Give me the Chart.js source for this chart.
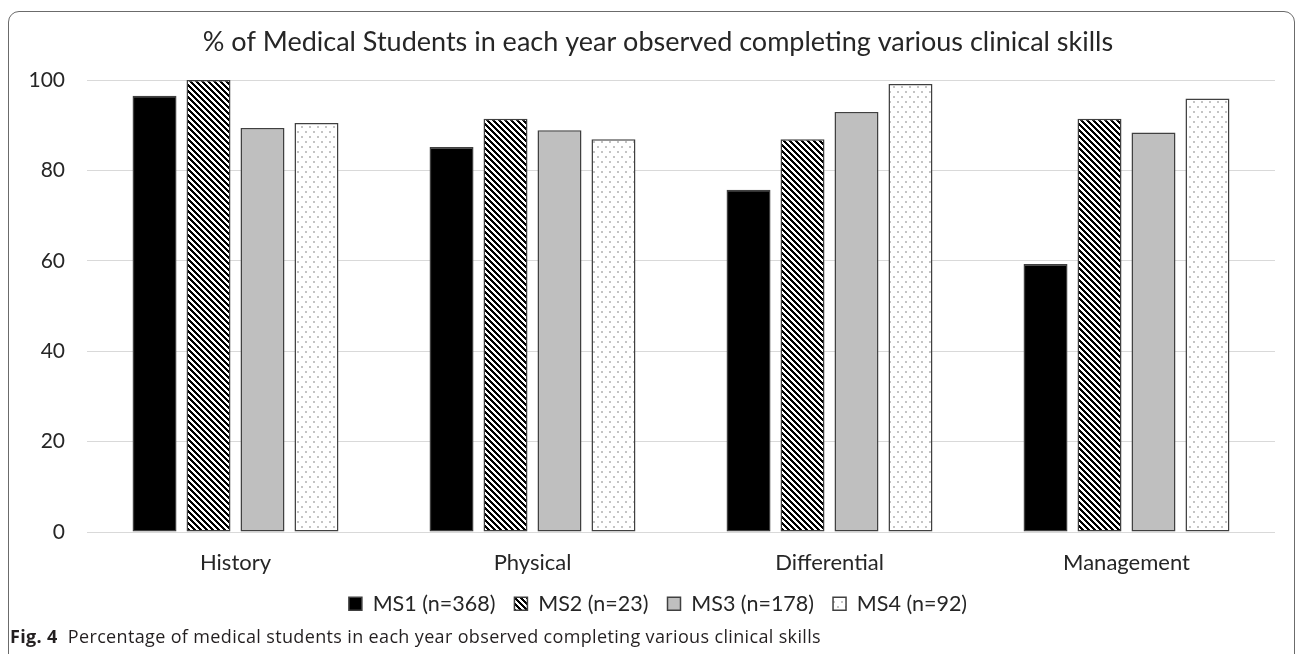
<!DOCTYPE html>
<html>
<head>
<meta charset="utf-8">
<script src="https://cdn.jsdelivr.net/npm/chart.js@4.4.1/dist/chart.umd.min.js"></script>
<style>
  html, body { margin: 0; padding: 0; background: #fff; }
  #wrap { position: relative; width: 1295px; height: 654px; overflow: hidden; }
  #frame {
    position: absolute; left: 8px; top: 11px; width: 1287px; height: 700px;
    border: 1.5px solid #6b6b6b; border-radius: 11px; box-sizing: border-box;
  }
  #c { position: absolute; left: 0; top: 0; }
  #caption {
    position: absolute; left: 10px; top: 624px;
    font-family: "Open Sans", sans-serif; font-size: 18px; letter-spacing: 0.35px;
    color: #231f20; white-space: nowrap;
  }
  #caption b { font-weight: 700; }
</style>
</head>
<body>
<div id="wrap">
  <div id="frame"></div>
  <canvas id="c" width="1316" height="654"></canvas>
  <div id="caption"><b>Fig. 4</b>&nbsp; Percentage of medical students in each year observed completing various clinical skills</div>
</div>
<script>
// Skill categories and the share (%) of each student year observed doing them
const categories = ['History', 'Physical', 'Differential', 'Management'];
const seriesNames = ['MS1 (n=368)', 'MS2 (n=23)', 'MS3 (n=178)', 'MS4 (n=92)'];
const ms1 = [96.5, 85.2, 75.7, 59.3];
const ms2 = [100, 91.4, 86.9, 91.4];
const ms3 = [89.4, 88.9, 92.9, 88.4];
const ms4 = [90.5, 86.9, 99.1, 95.9];
const yTicks = [0, 20, 40, 60, 80, 100];
const chartTitle = '% of Medical Students in each year observed completing various clinical skills';

// Fill patterns: diagonal hatching and a sparse dot screen
function makeHatch() {
  const n = 6;
  const t = document.createElement('canvas');
  t.width = n; t.height = n;
  const g = t.getContext('2d');
  g.fillStyle = '#ffffff';
  g.fillRect(0, 0, n, n);
  g.fillStyle = '#000000';
  for (let y = 0; y < n; y++) {
    for (let x = 0; x < n; x++) {
      if (((x - y) % n + n) % n < 3) g.fillRect(x, y, 1, 1);
    }
  }
  return g.createPattern(t, 'repeat');
}
function makeDots() {
  const t = document.createElement('canvas');
  t.width = 8; t.height = 10;
  const g = t.getContext('2d');
  g.fillStyle = '#ffffff';
  g.fillRect(0, 0, 8, 10);
  g.fillStyle = '#c4c4c4';
  g.fillRect(1, 1, 2, 2);
  g.fillRect(5, 6, 2, 2);
  return g.createPattern(t, 'repeat');
}

const fills = ['#000000', makeHatch(), '#bfbfbf', makeDots()];
const values = [ms1, ms2, ms3, ms4];

const FONT = 'Lato';
const TEXT = '#262626';

new Chart(document.getElementById('c'), {
  type: 'bar',
  data: {
    labels: categories,
    datasets: seriesNames.map((name, i) => ({
      label: name,
      data: values[i],
      backgroundColor: fills[i],
      borderColor: '#404040',
      borderWidth: 1.5,
      borderSkipped: false,
      categoryPercentage: 0.727,
      barPercentage: 0.815
    }))
  },
  options: {
    responsive: false,
    animation: false,
    devicePixelRatio: 1,
    layout: { padding: { left: 0, right: 0, top: 0, bottom: 29.5 } },
    plugins: {
      title: {
        display: true,
        text: chartTitle,
        color: TEXT,
        font: { family: FONT, size: 27, weight: 'normal', lineHeight: 1.2 },
        padding: { top: 25.8, bottom: 21.8 }
      },
      legend: {
        display: true,
        position: 'bottom',
        labels: {
          color: TEXT,
          font: { family: FONT, size: 21.5 },
          boxWidth: 13,
          boxHeight: 13,
          padding: 19
        }
      },
      tooltip: { enabled: false }
    },
    scales: {
      x: {
        grid: { display: false, drawTicks: false },
        border: { display: false },
        ticks: { color: TEXT, font: { family: FONT, size: 22, lineHeight: 1.0 }, padding: 20 },
        afterFit: s => { s.height = 42; }
      },
      y: {
        min: 0,
        max: 100,
        grid: { color: '#d9d9d9', lineWidth: 1, drawTicks: false },
        border: { display: false },
        afterBuildTicks: s => { s.ticks = yTicks.map(v => ({ value: v })); },
        ticks: { color: TEXT, font: { family: FONT, size: 21 }, padding: 22 },
        afterFit: s => { s.width = 87; }
      },
      // empty right-hand margin axis, keeps the plot clear of the frame edge
      yRight: {
        type: 'linear',
        position: 'right',
        display: true,
        grid: { display: false, drawTicks: false },
        border: { display: false },
        ticks: { display: false },
        afterFit: s => { s.width = 41; }
      }
    }
  }
});
</script>
</body>
</html>
